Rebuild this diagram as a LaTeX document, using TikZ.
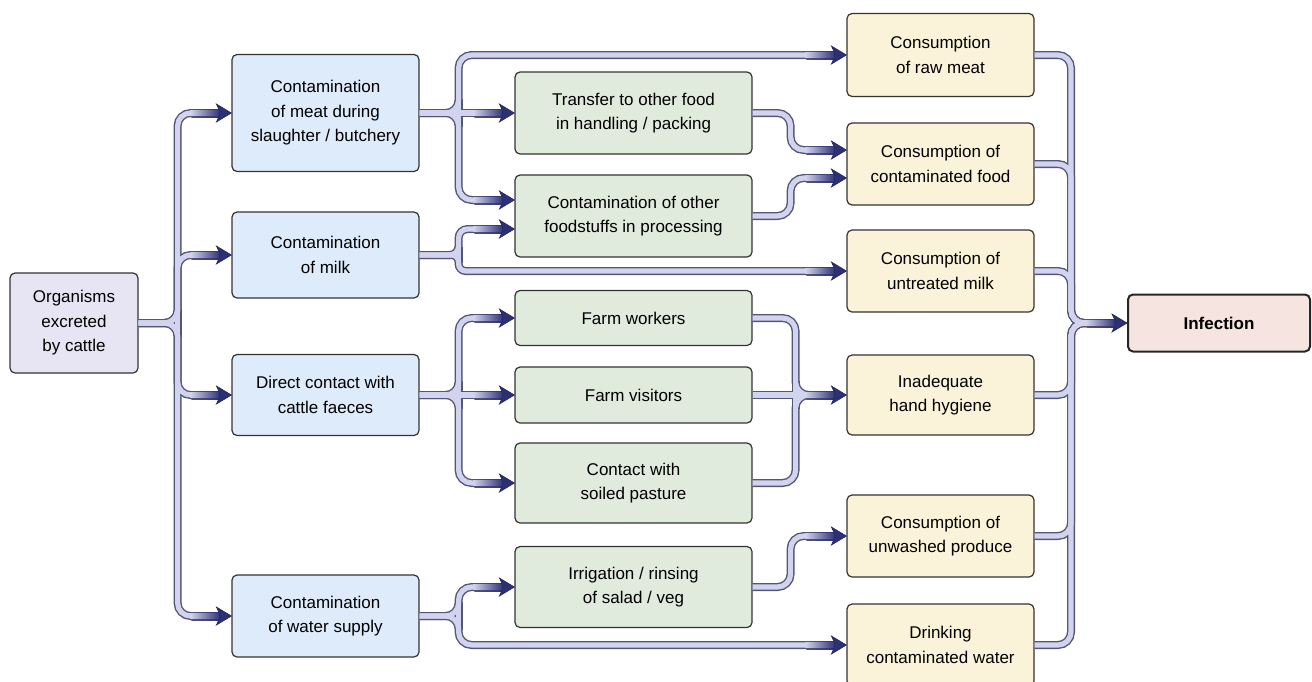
\documentclass[tikz,border=0pt]{standalone}
\usepackage{fontspec}
\setmainfont{Liberation Sans}
\usetikzlibrary{calc}

\definecolor{pipeedge}{HTML}{545676}
\definecolor{pipefill}{HTML}{D2D3EE}
\definecolor{pipetip}{HTML}{2C3074}
\definecolor{boxline}{HTML}{333333}
\definecolor{srcfill}{HTML}{E7E5F3}
\definecolor{bluefill}{HTML}{DDEBFB}
\definecolor{greenfill}{HTML}{E0EBDE}
\definecolor{yellowfill}{HTML}{FAF3D9}
\definecolor{pinkfill}{HTML}{F5E4E0}

\newcommand{\pipenet}[1]{%
\draw[#1] (org.east) -- ++(39,0) |- (meat.west);
\draw[#1] (org.east) -- ++(39,0) |- (milk.west);
\draw[#1] (org.east) -- ++(39,0) |- (direct.west);
\draw[#1] (org.east) -- ++(39,0) |- (water.west);
\draw[#1] (meat.east) -- (transfer.west);
\draw[#1] (meat.east) -- ++(39,0) |- (rawmeat.west);
\draw[#1] (meat.east) -- ++(39,0) |- (fpA);
\draw[#1, rounded corners=9] (milk.east) -- ++(39,0) |- (fpB);
\draw[#1, rounded corners=7] (milk.east) -- ++(39,0) |- (rawmilk.west);
\draw[#1] (direct.east) -- ++(39,0) |- (workers.west);
\draw[#1] (direct.east) -- (visitors.west);
\draw[#1] (direct.east) -- ++(39,0) |- (pasture.west);
\draw[#1] (water.east) -- ++(39,0) |- (irrigation.west);
\draw[#1] (water.east) -- ++(39,0) |- (drinking.west);
\draw[#1] (transfer.east) -- ++(38,0) |- (cfA);
\draw[#1] (foodproc.east) -- ++(38,0) |- (cfB);
\draw[#1] (workers.east) -- ++(43,0) |- (hygiene.west);
\draw[#1] (visitors.east) -- (hygiene.west);
\draw[#1] (pasture.east) -- ++(43,0) |- (hygiene.west);
\draw[#1] (irrigation.east) -- ++(38,0) |- (produce.west);
\foreach \src in {rawmeat,confood,rawmilk,hygiene,produce,drinking}
  {\draw[#1] (\src.east) -| ([xshift=-56pt]infection.west) -- (infection.west);}
\foreach \j/\d in {jOrg/14,jMeat/14,jMilk/8,jDirect/14,jWater/14,jHand/14}
  {\draw[#1, shorten >=0pt] ($(\j)+(0,-\d)$) -- ($(\j)+(0,\d)$);}
}

\newcommand{\pipehead}[1]{%
\shade[left color=pipeedge, right color=pipetip] ($(#1)+(-40,-4)$) rectangle ($(#1)+(-11,4)$);
\shade[left color=pipefill, right color=pipetip] ($(#1)+(-41,-2.6)$) rectangle ($(#1)+(-11,2.6)$);
\filldraw[fill=pipetip, draw=pipetip!80!black, line width=0.6] (#1) -- ++(-15,-9) -- ++(3,6.5) -- ++(0,5) -- ++(-3,6.5) -- cycle;
}

\begin{document}
\begin{tikzpicture}[x=1pt,y=-1pt,
  box/.style={draw=boxline, line width=1.2, rounded corners=5, align=center, inner sep=0,
    font=\fontsize{17}{24.5}\selectfont},
  pipeout/.style={line width=8, draw=pipeedge, rounded corners=13, shorten >=38},
  pipein/.style={line width=5.2, draw=pipefill, rounded corners=13, shorten >=39}]
\useasboundingbox (0,0) rectangle (1312,681);
\clip (0,0) rectangle (1312,681);

\node[box, fill=srcfill, minimum width=128, minimum height=100] (org) at (74,323) {Organisms\\excreted\\by cattle};

\node[box, fill=bluefill, minimum width=187, minimum height=117] (meat) at (325.5,113) {Contamination\\of meat during\\slaughter / butchery};
\node[box, fill=bluefill, minimum width=187, minimum height=86] (milk) at (325.5,255) {Contamination\\of milk};
\node[box, fill=bluefill, minimum width=187, minimum height=81] (direct) at (325.5,395) {Direct contact with\\cattle faeces};
\node[box, fill=bluefill, minimum width=187, minimum height=82] (water) at (325.5,616) {Contamination\\of water supply};

\node[box, fill=greenfill, minimum width=237, minimum height=82] (transfer) at (633.5,113) {Transfer to other food\\in handling / packing};
\node[box, fill=greenfill, minimum width=237, minimum height=82] (foodproc) at (633.5,216) {Contamination of other\\foodstuffs in processing};
\node[box, fill=greenfill, minimum width=237, minimum height=55] (workers) at (633.5,318) {Farm workers};
\node[box, fill=greenfill, minimum width=237, minimum height=56] (visitors) at (633.5,395) {Farm visitors};
\node[box, fill=greenfill, minimum width=237, minimum height=80] (pasture) at (633.5,483) {Contact with\\soiled pasture};
\node[box, fill=greenfill, minimum width=237, minimum height=81] (irrigation) at (633.5,587) {Irrigation / rinsing\\of salad / veg};

\node[box, fill=yellowfill, minimum width=187, minimum height=83] (rawmeat) at (940.5,55) {Consumption\\of raw meat};
\node[box, fill=yellowfill, minimum width=187, minimum height=82] (confood) at (940.5,164) {Consumption of\\contaminated food};
\node[box, fill=yellowfill, minimum width=187, minimum height=82] (rawmilk) at (940.5,271) {Consumption of\\untreated milk};
\node[box, fill=yellowfill, minimum width=187, minimum height=80] (hygiene) at (940.5,395) {Inadequate\\hand hygiene};
\node[box, fill=yellowfill, minimum width=187, minimum height=82] (produce) at (940.5,536) {Consumption of\\unwashed produce};
\node[box, fill=yellowfill, minimum width=187, minimum height=82] (drinking) at (940.5,645) {Drinking\\contaminated water};

\node[box, fill=pinkfill, line width=2, draw=black!85, minimum width=182, minimum height=57,
  font=\fontsize{17}{24.5}\selectfont\bfseries] (infection) at (1219,323) {Infection};

\coordinate (fpA) at ($(foodproc.west)+(0,-16)$);
\coordinate (fpB) at ($(foodproc.west)+(0,13)$);
\coordinate (cfA) at ($(confood.west)+(0,-14)$);
\coordinate (cfB) at ($(confood.west)+(0,14)$);
\coordinate (jOrg) at ([xshift=39pt]org.east);
\coordinate (jMeat) at ([xshift=39pt]meat.east);
\coordinate (jMilk) at ([xshift=39pt]milk.east);
\coordinate (jDirect) at ([xshift=39pt]direct.east);
\coordinate (jWater) at ([xshift=39pt]water.east);
\coordinate (jHand) at ([xshift=43pt]visitors.east);

\pipenet{pipeout}
\pipenet{pipein}
\foreach \t in {meat.west,milk.west,direct.west,water.west,transfer.west,rawmeat.west,fpA,fpB,
  rawmilk.west,workers.west,visitors.west,pasture.west,irrigation.west,drinking.west,
  cfA,cfB,hygiene.west,produce.west,infection.west}
  {\pipehead{\t}}
\end{tikzpicture}
\end{document}
